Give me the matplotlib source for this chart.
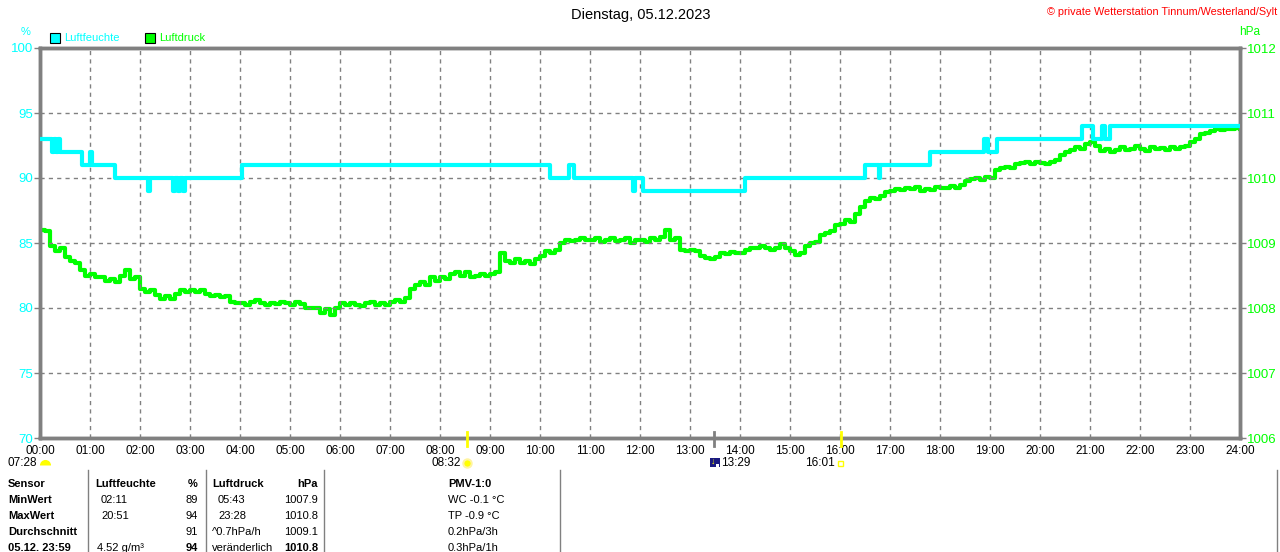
import matplotlib
matplotlib.use("Agg")
import matplotlib.pyplot as plt
from matplotlib.patches import Rectangle
import numpy as np

plt.rcParams['font.family'] = ['Liberation Sans', 'DejaVu Sans']

W, H = 1280, 552

# ---------------- data ----------------
title = "Dienstag, 05.12.2023"
copyright_text = "\u00a9 private Wetterstation Tinnum/Westerland/Sylt"
hour_labels = ["%02d:00" % h for h in range(25)]
hum_ticks = [70, 75, 80, 85, 90, 95, 100]
press_ticks = [1006, 1007, 1008, 1009, 1010, 1011, 1012]

# humidity (%) as step change points (hours, value)
hum_t = [0, 0.24, 0.28, 0.32, 0.36, 0.4, 0.84, 1.0, 1.04, 1.5, 2.15, 2.2, 2.65, 2.7,
         2.75, 2.8, 2.85, 2.9, 4.03, 10.2, 10.58, 10.68, 11.85, 11.9, 12.05, 14.1,
         16.5, 16.77, 16.8, 17.8, 18.87, 18.95, 19.13, 20.83, 21.06, 21.24, 21.3, 21.4, 24]
hum_v = [93, 92, 93, 92, 93, 92, 91, 92, 91, 90, 89, 90, 89, 90,
         89, 90, 89, 90, 91, 90, 91, 90, 89, 90, 89, 90,
         91, 90, 91, 92, 93, 92, 93, 94, 93, 94, 93, 94, 94]

# pressure (hPa) every 0.1 h
press_v = [
    1009.2, 1009.18, 1008.95, 1008.88, 1008.93, 1008.78, 1008.72, 1008.7, 1008.58, 1008.5,
    1008.52, 1008.48, 1008.47, 1008.42, 1008.45, 1008.4, 1008.5, 1008.58, 1008.45, 1008.47,
    1008.3, 1008.25, 1008.27, 1008.2, 1008.14, 1008.18, 1008.14, 1008.22, 1008.27, 1008.25,
    1008.28, 1008.24, 1008.27, 1008.22, 1008.18, 1008.2, 1008.17, 1008.19, 1008.1, 1008.07,
    1008.08, 1008.05, 1008.09, 1008.12, 1008.08, 1008.05, 1008.08, 1008.06, 1008.1, 1008.07,
    1008.05, 1008.1, 1008.06, 1008.0, 1008.0, 1008.0, 1007.93, 1007.98, 1007.9, 1008.0,
    1008.07, 1008.05, 1008.08, 1008.05, 1008.03, 1008.08, 1008.1, 1008.04, 1008.08, 1008.05,
    1008.1, 1008.12, 1008.1, 1008.15, 1008.3, 1008.35, 1008.4, 1008.35, 1008.47, 1008.42,
    1008.48, 1008.45, 1008.52, 1008.55, 1008.5, 1008.55, 1008.47, 1008.5, 1008.52, 1008.5,
    1008.52, 1008.55, 1008.85, 1008.72, 1008.7, 1008.75, 1008.7, 1008.72, 1008.68, 1008.75,
    1008.8, 1008.87, 1008.85, 1008.9, 1009.0, 1009.05, 1009.03, 1009.05, 1009.07, 1009.04,
    1009.05, 1009.07, 1009.02, 1009.05, 1009.07, 1009.03, 1009.05, 1009.08, 1009.0, 1009.05,
    1009.05, 1009.02, 1009.07, 1009.05, 1009.1, 1009.2, 1009.05, 1009.08, 1008.9, 1008.88,
    1008.9, 1008.88, 1008.8, 1008.77, 1008.75, 1008.78, 1008.85, 1008.83, 1008.86, 1008.84,
    1008.85, 1008.9, 1008.92, 1008.92, 1008.95, 1008.92, 1008.9, 1008.93, 1008.98, 1008.92,
    1008.88, 1008.82, 1008.85, 1008.95, 1009.0, 1009.02, 1009.12, 1009.15, 1009.18, 1009.28,
    1009.3, 1009.35, 1009.33, 1009.45, 1009.56, 1009.65, 1009.7, 1009.68, 1009.72, 1009.78,
    1009.8, 1009.83, 1009.82, 1009.85, 1009.83, 1009.86, 1009.8, 1009.83, 1009.82, 1009.86,
    1009.85, 1009.84, 1009.88, 1009.85, 1009.9, 1009.95, 1009.98, 1010.0, 1009.97, 1010.02,
    1010.0, 1010.12, 1010.15, 1010.17, 1010.15, 1010.22, 1010.23, 1010.25, 1010.22, 1010.25,
    1010.23, 1010.22, 1010.25, 1010.27, 1010.35, 1010.4, 1010.43, 1010.47, 1010.45, 1010.52,
    1010.55, 1010.5, 1010.42, 1010.45, 1010.4, 1010.43, 1010.47, 1010.43, 1010.45, 1010.5,
    1010.45, 1010.42, 1010.47, 1010.44, 1010.46, 1010.43, 1010.47, 1010.45, 1010.48, 1010.5,
    1010.55, 1010.6, 1010.67, 1010.7, 1010.72, 1010.75, 1010.74, 1010.76, 1010.75, 1010.77,
    1010.75]
press_t = [i / 10 for i in range(len(press_v))]

# sun / moon events (hours, label)
sunrise_h, sunrise_lbl = 7 + 28 / 60, "07:28"
noon_h, noon_lbl = 8 + 32 / 60, "08:32"
moon_h, moon_lbl = 13 + 29 / 60, "13:29"
sunset_h, sunset_lbl = 16 + 1 / 60, "16:01"

# table
tbl_rows = ["Sensor", "MinWert", "MaxWert", "Durchschnitt", "05.12. 23:59"]
hum_col_time = ["", "02:11", "20:51", "", "4.52 g/m\u00b3"]
hum_col_val = ["%", "89", "94", "91", "94"]
pr_col_time = ["", "05:43", "23:28", "^0.7hPa/h", "ver\u00e4nderlich"]
pr_col_val = ["hPa", "1007.9", "1010.8", "1009.1", "1010.8"]
pmv_col = ["PMV-1:0", "WC -0.1 \u00b0C", "TP -0.9 \u00b0C", "0.2hPa/3h", "0.3hPa/1h"]

CYAN = "#00FFFF"
GREEN = "#00FF00"
GREY = "#808080"
YELLOW = "#FFFF00"

# ---------------- figure ----------------
fig = plt.figure(figsize=(W / 100, H / 100), dpi=100)
fig.patch.set_facecolor("white")

def fx(px):
    return px / W

def fy(py):
    return 1 - py / H

L, R, T, B = 40, 1240, 48, 438
ax = fig.add_axes([fx(L), fy(B), fx(R) - fx(L), fy(T) - fy(B)])
ax2 = ax.twinx()

ax.set_xlim(0, 24)
ax.set_ylim(70, 100)
ax2.set_ylim(1006, 1012)

# grid
for h in range(1, 24):
    ax.axvline(h, color=GREY, lw=1, ls=(0, (3, 3)), zorder=1)
for v in hum_ticks[1:-1]:
    ax.axhline(v, color=GREY, lw=1, ls=(0, (3, 3)), zorder=1)

ax2.plot(press_t, press_v, color=GREEN, lw=3, drawstyle="steps-post", zorder=3)
ax.plot(hum_t, hum_v, color=CYAN, lw=3, drawstyle="steps-post", zorder=4)

ax.set_zorder(ax2.get_zorder() + 1)
ax.patch.set_visible(False)

for a in (ax, ax2):
    for s in a.spines.values():
        s.set_color(GREY)
        s.set_linewidth(2.5)

ax.set_xticks(range(25))
ax.set_xticklabels(hour_labels, fontsize=8.5)
ax.tick_params(axis="x", length=0, pad=5)
ax.set_yticks(hum_ticks)
ax.set_yticklabels([str(v) for v in hum_ticks], color=CYAN, fontsize=9.5)
ax.tick_params(axis="y", length=4, color=GREY, width=1, pad=1)
ax2.set_yticks(press_ticks)
ax2.set_yticklabels([str(v) for v in press_ticks], color=GREEN, fontsize=9.5)
ax2.tick_params(axis="y", length=4, color=GREY, width=1, pad=1)

# event ticks on x axis
for h, col in ((noon_h, YELLOW), (sunset_h, YELLOW), (moon_h, GREY)):
    ax.plot([h, h], [70 - 8 / 13, 70 + 6 / 13], color=col, lw=2, clip_on=False, zorder=6)

# titles and labels
fig.text(fx(641), fy(15), title, ha="center", va="center", fontsize=10.5)
fig.text(fx(1277), fy(12), copyright_text, ha="right", va="center", fontsize=7.8, color="red")
fig.text(fx(26), fy(32), "%", ha="center", va="center", fontsize=8, color=CYAN)
fig.text(fx(1250), fy(32), "hPa", ha="center", va="center", fontsize=8.5, color=GREEN)

# legend
fig.add_artist(Rectangle((fx(50), fy(43)), fx(10), fy(33) - fy(43), facecolor=CYAN,
                         edgecolor="black", lw=0.8, transform=fig.transFigure))
fig.text(fx(64), fy(38), "Luftfeuchte", ha="left", va="center", fontsize=8, color=CYAN)
fig.add_artist(Rectangle((fx(145), fy(43)), fx(10), fy(33) - fy(43), facecolor=GREEN,
                         edgecolor="black", lw=0.8, transform=fig.transFigure))
fig.text(fx(159), fy(38), "Luftdruck", ha="left", va="center", fontsize=8, color=GREEN)

# sun / moon labels
def hx(h):
    return L + (R - L) * h / 24

fig.text(fx(37), fy(463), sunrise_lbl, ha="right", va="center", fontsize=8.5)
fig.add_artist(plt.Line2D([fx(45)], [fy(465)], marker="o", markersize=8, fillstyle="top",
                          markerfacecolor=YELLOW, markerfacecoloralt="none",
                          markeredgewidth=0, transform=fig.transFigure))
fig.text(fx(hx(noon_h) - 6), fy(463), noon_lbl, ha="right", va="center", fontsize=8.5)
fig.add_artist(plt.Line2D([fx(hx(noon_h))], [fy(463)], marker="o", markersize=6,
                          markerfacecolor=YELLOW, markeredgecolor="#FFF4A0",
                          markeredgewidth=1.5, transform=fig.transFigure))
fig.add_artist(Rectangle((fx(710), fy(467)), fx(10), fy(458) - fy(467), facecolor="#1a1a80",
                         edgecolor="none", transform=fig.transFigure))
fig.text(fx(713), fy(461), "\u2193", ha="center", va="center", fontsize=6.5, color=YELLOW,
         fontweight="bold")
fig.add_artist(Rectangle((fx(716), fy(467)), fx(3), fy(464) - fy(467), facecolor="white",
                         edgecolor="none", transform=fig.transFigure))
fig.text(fx(721), fy(463), moon_lbl, ha="left", va="center", fontsize=8.5)
fig.text(fx(835), fy(463), sunset_lbl, ha="right", va="center", fontsize=8.5)
fig.add_artist(Rectangle((fx(838), fy(466)), fx(5), fy(461) - fy(466), facecolor="none",
                         edgecolor=YELLOW, lw=1, transform=fig.transFigure))

# table
for xl in (88, 206, 324, 560, 1277):
    fig.add_artist(plt.Line2D([fx(xl), fx(xl)], [fy(470), fy(552)], color=GREY, lw=1))
row_y = [484, 500, 516, 532, 548]
for i, y in enumerate(row_y):
    fig.text(fx(8), fy(y), tbl_rows[i], ha="left", va="center", fontsize=8, fontweight="bold")
    if i == 0:
        fig.text(fx(95), fy(y), "Luftfeuchte", ha="left", va="center", fontsize=8, fontweight="bold")
        fig.text(fx(212), fy(y), "Luftdruck", ha="left", va="center", fontsize=8, fontweight="bold")
    else:
        tx = 97 if i == 4 else 101
        fig.text(fx(tx), fy(y), hum_col_time[i], ha="left", va="center", fontsize=8)
        tx2 = 212 if i >= 3 else 218
        fig.text(fx(tx2), fy(y), pr_col_time[i], ha="left", va="center", fontsize=8)
    bw = "bold" if (i == 0 or i == 4) else "normal"
    fig.text(fx(198), fy(y), hum_col_val[i], ha="right", va="center", fontsize=8, fontweight=bw)
    fig.text(fx(318), fy(y), pr_col_val[i], ha="right", va="center", fontsize=8, fontweight=bw)
    fig.text(fx(448), fy(y), pmv_col[i], ha="left", va="center", fontsize=8,
             fontweight="bold" if i == 0 else "normal")

fig.savefig("out.png", dpi=100, facecolor="white")
